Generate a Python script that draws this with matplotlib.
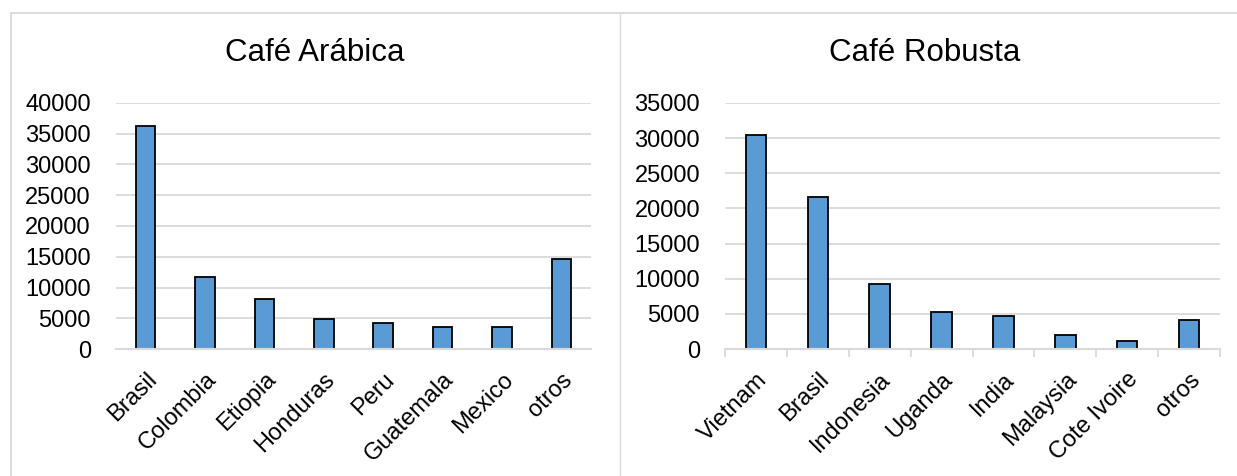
import matplotlib.pyplot as plt
from matplotlib.patches import Rectangle
from matplotlib.lines import Line2D

plt.rcParams['font.family'] = ['Liberation Sans', 'DejaVu Sans']

# Data
arabica_countries = ["Brasil", "Colombia", "Etiopia", "Honduras", "Peru",
                     "Guatemala", "Mexico", "otros"]
arabica_values = [36300, 11700, 8100, 4800, 4200, 3650, 3600, 14600]

robusta_countries = ["Vietnam", "Brasil", "Indonesia", "Uganda", "India",
                     "Malaysia", "Cote Ivoire", "otros"]
robusta_values = [30450, 21600, 9300, 5300, 4750, 2000, 1150, 4100]

BAR_COLOR = "#5b9bd5"
GRID_COLOR = "#d9d9d9"
W, H = 1237, 476


def px_axes(fig, left, top, right, bottom):
    """axes from pixel box"""
    return fig.add_axes([left / W, 1 - bottom / H, (right - left) / W, (bottom - top) / H])


def draw_panel(ax, names, values, ymax, step, ticks):
    x = range(len(names))
    ax.bar(x, values, width=0.33, color=BAR_COLOR, edgecolor="black", linewidth=1.3, zorder=1)
    ax.set_xlim(-0.5, len(names) - 0.5)
    ax.set_ylim(0, ymax)
    ax.set_yticks(range(0, ymax + 1, step))
    ax.yaxis.grid(True, color=GRID_COLOR, linewidth=1.3)
    ax.set_axisbelow(True)
    for s in ["left", "right", "top"]:
        ax.spines[s].set_visible(False)
    ax.spines["bottom"].set_color(GRID_COLOR)
    ax.spines["bottom"].set_linewidth(1.5)
    ax.spines["bottom"].set_zorder(3)
    ax.tick_params(axis="y", length=0, labelsize=17, pad=18)
    ax.set_xticks([i - 0.5 for i in range(len(names) + 1)], minor=False)
    ax.set_xticklabels([])
    ax.tick_params(axis="x", which="major", length=6 if ticks else 0,
                   color=GRID_COLOR, width=1.3)
    ax.set_xticks(list(x), minor=True)
    ax.set_xticklabels(names, minor=True, rotation=45, ha="right",
                       rotation_mode="anchor", fontsize=17)
    ax.tick_params(axis="x", which="minor", length=0, pad=14)


fig = plt.figure(figsize=(W / 100, H / 100), dpi=100)

# panel borders
fig.add_artist(Rectangle((11 / W, -0.1), (W + 20) / W, 1 - 13 / H + 0.1,
                         transform=fig.transFigure, fill=False,
                         edgecolor=GRID_COLOR, linewidth=1.3))
fig.add_artist(Line2D([620 / W, 620 / W], [0, 1 - 13 / H], transform=fig.transFigure,
                      color=GRID_COLOR, linewidth=1.0))

ax1 = px_axes(fig, 116, 103, 591, 349)
draw_panel(ax1, arabica_countries, arabica_values, 40000, 5000, ticks=False)
fig.text(315 / W, 1 - 53 / H, "Café Arábica", ha="center", va="center", fontsize=22.5)

ax2 = px_axes(fig, 725, 103, 1220, 349)
draw_panel(ax2, robusta_countries, robusta_values, 35000, 5000, ticks=True)
fig.text(925 / W, 1 - 53 / H, "Café Robusta", ha="center", va="center", fontsize=22.5)

fig.savefig("out.png", dpi=100)
